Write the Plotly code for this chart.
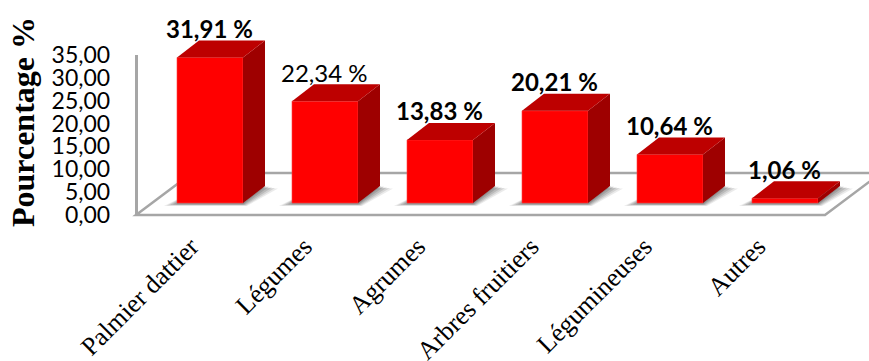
import plotly.graph_objects as go

categories = ["Palmier dattier", "Légumes", "Agrumes", "Arbres fruitiers", "Légumineuses", "Autres"]
values = [31.91, 22.34, 13.83, 20.21, 10.64, 1.06]
value_labels = ["31,91 %", "22,34 %", "13,83 %", "20,21 %", "10,64 %", "1,06 %"]
label_bold = [True, False, True, True, True, True]
y_ticks = [0, 5, 10, 15, 20, 25, 30, 35]
y_tick_labels = ["0,00", "5,00", "10,00", "15,00", "20,00", "25,00", "30,00", "35,00"]

W, H = 869, 361
X0, X_STEP = 210.0, 115.0      # pixel centre of the first bar, pixels per category
BASE_PX, Y_SCALE = 203.0, 4.56  # pixel row of the bar feet, pixels per percent
AXIS_X, AXIS_BOTTOM, AXIS_TOP = 135.5, 215.0, 55.0


def dx(px):
    return px / X_STEP


def dy(px):
    return px / Y_SCALE


def fx(px):
    return (px - X0) / X_STEP


def fy(py):
    return (BASE_PX - py) / Y_SCALE


BAR_W = dx(66)
DEPTH_X, DEPTH_Y = dx(22), dy(17)
FRONT, TOP, SIDE = "#ff0000", "#bd0000", "#9e0000"
FRAME = "#a6a6a6"

fig = go.Figure()


def path(points):
    return "M " + " L ".join(f"{x:.4f},{y:.4f}" for x, y in points) + " Z"


shapes = []
# 3D floor outline
floor = [(fx(136), fy(215)), (fx(825), fy(215)), (fx(881), fy(173)), (fx(192), fy(173))]
shapes.append(dict(type="path", path=path(floor), xref="x", yref="y2", layer="below",
                   fillcolor="white", line=dict(color=FRAME, width=2.5)))

# soft shadow under each column, built from stacked translucent layers
for i in range(len(values)):
    left, right = i - BAR_W / 2, i + BAR_W / 2
    for spread, alpha in [(13, 0.12), (10, 0.16), (7, 0.20), (4, 0.25), (1, 0.28)]:
        pts = [
            (left - dx(spread), dy(-1 - spread * 0.15)),
            (right + dx(spread * 0.3), dy(-1 - spread * 0.15)),
            (right + DEPTH_X + dx(spread), DEPTH_Y - dy(spread * 0.2)),
            (left + DEPTH_X, DEPTH_Y - dy(spread * 0.2)),
        ]
        shapes.append(dict(type="path", path=path(pts), xref="x", yref="y2", layer="below",
                           fillcolor=f"rgba(90,90,90,{alpha})", line=dict(width=0)))

# front faces
fig.add_trace(go.Bar(x=list(range(len(values))), y=values, width=BAR_W, yaxis="y2",
                     marker=dict(color=FRONT, line=dict(color="#ff4040", width=0.6)),
                     showlegend=False, hoverinfo="skip"))

# side and top faces of each column
for i, v in enumerate(values):
    left, right = i - BAR_W / 2, i + BAR_W / 2
    fig.add_trace(go.Scatter(
        x=[right, right + DEPTH_X, right + DEPTH_X, right, right],
        y=[0, DEPTH_Y, v + DEPTH_Y, v, 0], yaxis="y2", mode="lines", fill="toself",
        fillcolor=SIDE, line=dict(width=0, color=SIDE), showlegend=False, hoverinfo="skip"))
    fig.add_trace(go.Scatter(
        x=[left, right, right + DEPTH_X, left + DEPTH_X, left],
        y=[v, v, v + DEPTH_Y, v + DEPTH_Y, v], yaxis="y2", mode="lines", fill="toself",
        fillcolor=TOP, line=dict(width=0, color=TOP), showlegend=False, hoverinfo="skip"))

# empty trace that keeps the value axis attached to the x axis
fig.add_trace(go.Scatter(x=[None], y=[None], yaxis="y", showlegend=False, hoverinfo="skip"))

annotations = []
for i, (v, lab, bold) in enumerate(zip(values, value_labels, label_bold)):
    annotations.append(dict(
        x=i, y=v, xref="x", yref="y2", text=f"<b>{lab}</b>" if bold else lab, showarrow=False,
        yshift=29, xshift=-1, xanchor="center", yanchor="middle",
        font=dict(family="Lato", size=24, color="black")))
annotations.append(dict(
    x=23 / W, y=1 - 122 / H, xref="paper", yref="paper", text="<b>Pourcentage %</b>",
    showarrow=False, textangle=-90, xanchor="center", yanchor="middle",
    font=dict(family="Liberation Serif", size=32, color="black")))

fig.update_layout(
    width=W, height=H, margin=dict(l=0, r=0, t=0, b=0, autoexpand=False),
    paper_bgcolor="white", plot_bgcolor="rgba(0,0,0,0)",
    showlegend=False, shapes=shapes, annotations=annotations,
    xaxis=dict(domain=[0, 1], range=[fx(0), fx(W)], anchor="y", fixedrange=True, automargin=False,
               tickmode="array", tickvals=[i * 0.986 - 0.165 for i in range(len(categories))],
               ticktext=categories, tickangle=-45, ticks="outside", ticklen=5,
               tickcolor="rgba(0,0,0,0)", showgrid=False, zeroline=False, showline=False,
               tickfont=dict(family="Liberation Serif", size=26, color="black")),
    yaxis=dict(domain=[(H - AXIS_BOTTOM) / H, (H - AXIS_TOP) / H], range=[0, 35],
               anchor="free", position=AXIS_X / W, fixedrange=True, automargin=False,
               tickmode="array", tickvals=y_ticks, ticktext=y_tick_labels,
               ticks="outside", ticklen=20, tickcolor="rgba(0,0,0,0)",
               showgrid=False, zeroline=False, showline=True, linecolor=FRAME, linewidth=2.5,
               tickfont=dict(family="Lato", size=23, color="black")),
    yaxis2=dict(domain=[0, 1], range=[fy(H), fy(0)], anchor="x", visible=False, automargin=False,
                fixedrange=True, showgrid=False, zeroline=False),
)

fig.write_html("out.html", config=dict(displayModeBar=False))
